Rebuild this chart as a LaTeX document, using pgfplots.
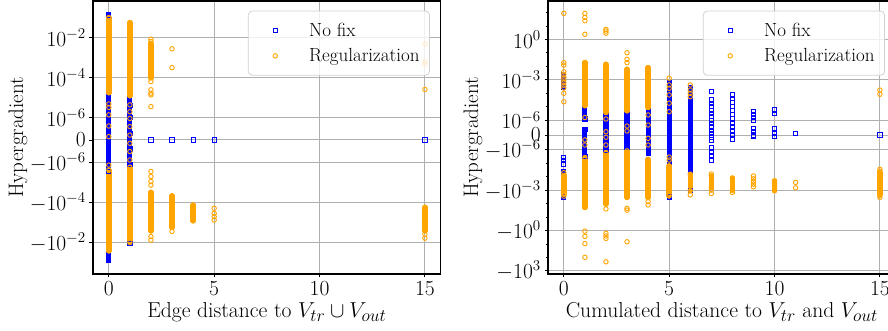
\RequirePackage{fix-cm}
\documentclass[border=0pt]{standalone}
\usepackage{pgfplots}
\usepackage{pgfplotstable}
\pgfplotsset{compat=1.18}
\DeclareMathSizes{21.6}{21.6}{17.5}{13}
\definecolor{mplblue}{RGB}{0,0,255}
\definecolor{mplorange}{RGB}{255,165,0}
\definecolor{gridgray}{RGB}{176,176,176}
% symmetric-log transform (linthresh = 1e-6, linscale = 1, base 10)
\newcommand\SL[1]{(abs(#1)<1e-6 ? (#1)*1111111.111 : ((#1)>0 ? 1 : -1)*(7.1111111+ln(max(abs(#1),1e-6))*0.4342944819))}

% ---------------- left panel ----------------
\pgfplotstableread{
x y
0 0.138
0 -0.085
nan 0
1 0.0245
1 -0.0117
}\LBbar
\pgfplotstableread{
x y
0 0.138
0 3e-6
0 5e-7
0 0
0 -5e-7
0 -3e-6
0 -0.085
1 4e-6
1 1e-6
1 3e-7
1 -4e-7
1 -1.3e-6
1 -0.0117
2 0
3 0
4 0
5 0
15 0
}\LBmark
\pgfplotstableread{
x y
0 0.102
0 1.8e-5
nan 0
0 -2.5e-6
0 -0.027
nan 0
1 0.057
1 1.26e-5
nan 0
1 -1.8e-6
1 -0.0102
nan 0
2 5e-3
2 1e-4
nan 0
2 -3.2e-5
2 -2.7e-3
nan 0
3 -4.8e-5
3 -1.8e-3
nan 0
4 -1.4e-4
4 -8.5e-4
nan 0
15 -1.8e-4
15 -2.7e-3
}\LObar
\pgfplotstableread{
x y
0 0.102
0 1.8e-5
0 4.9e-6
0 3.3e-6
0 1.4e-6
0 6.3e-7
0 1.5e-7
0 -1.4e-6
0 -2.5e-6
0 -0.027
1 0.057
1 1.26e-5
1 4.4e-6
1 2e-6
1 9.7e-7
1 6e-7
1 2.2e-7
1 -1.5e-7
1 -5.2e-7
1 -9e-7
1 -1.8e-6
1 -0.0102
2 0.0085
2 6.5e-3
2 5e-3
2 1e-4
2 6.5e-5
2 2.5e-5
2 1.7e-5
2 1.4e-5
2 3.6e-6
2 -2.9e-6
2 -5.2e-6
2 -9.3e-6
2 -1.4e-5
2 -3.2e-5
2 -2.7e-3
2 -5.2e-3
2 -7.8e-3
3 2.8e-3
3 3.2e-4
3 -4.8e-5
3 -1.8e-3
3 -2.9e-3
4 -1.4e-4
4 -8.5e-4
5 -2e-4
5 -3.6e-4
5 -5.2e-4
5 -7.8e-4
15 4.7e-3
15 6.5e-4
15 4.9e-4
15 2.6e-5
15 -1.8e-4
15 -2.7e-3
15 -4e-3
15 -6.3e-3
}\LOmark

% ---------------- right panel ----------------
\pgfplotstableread{
x y
0 2.5e-3
0 2.75e-4
nan 0
0 -3.9e-5
0 -3.1e-3
nan 0
1 7.8e-5
1 1.2e-6
nan 0
1 3.6e-7
1 -3.1e-6
nan 0
2 7.8e-6
2 -1e-6
nan 0
3 7.8e-6
3 -8.5e-7
nan 0
4 1.2e-5
4 -1.9e-6
nan 0
5 6.2e-4
5 -3.1e-3
nan 0
6 2.6e-4
6 -1.07e-3
}\RBbar
\pgfplotstableread{
x y
0 2.5e-3
0 1e-3
0 2.75e-4
0 -3.5e-6
0 -6.2e-6
0 -1.1e-5
0 -3.9e-5
0 -3.1e-3
1 1.2e-6
1 3.6e-7
1 -3.1e-6
2 -1e-6
3 -8.5e-7
4 -1.9e-6
5 6.2e-4
5 -3.1e-3
6 2.6e-4
6 -1.07e-3
7 1.3e-4
7 3.1e-5
7 1.74e-5
7 9.8e-6
7 5.5e-6
7 3.1e-6
7 1.74e-6
7 9.9e-7
7 7.65e-7
7 5.4e-7
7 3.15e-7
7 9e-8
7 -1.35e-7
7 -3.3e-7
7 -8.7e-7
7 -1.4e-6
7 -2.75e-6
7 -5.6e-6
8 7.4e-5
8 3.9e-5
8 1.95e-5
8 9.8e-6
8 4.9e-6
8 2.5e-6
8 1.2e-6
8 8.1e-7
8 5.4e-7
8 2.7e-7
8 0
8 -2.7e-7
9 4.2e-6
9 2.45e-6
9 1.55e-6
9 9.5e-7
9 4.5e-7
9 2.2e-7
9 0
9 -1.1e-7
10 5.6e-6
10 3.1e-6
10 4e-7
10 1.35e-7
10 -9e-8
11 1.1e-7
15 0
}\RBmark
\pgfplotstableread{
x y
0 -7.8e-5
0 -1.95e-3
nan 0
1 0.019
1 1.17e-5
nan 0
1 -3.7e-6
1 -0.019
nan 0
2 0.014
2 3.7e-6
nan 0
2 -1.6e-6
2 -0.0105
nan 0
3 6e-3
3 4.9e-6
nan 0
3 -1.2e-6
3 -3.4e-3
nan 0
4 7.9e-3
4 8.7e-6
nan 0
4 -5e-6
4 -3.4e-3
nan 0
5 -1.55e-5
5 -2.6e-3
nan 0
6 -6.5e-5
6 -1.07e-3
nan 0
7 -8.7e-5
7 -6.2e-4
nan 0
8 -1.23e-4
8 -9.8e-4
nan 0
10 -2e-4
10 -1.07e-3
nan 0
15 -4.9e-5
15 -1.95e-3
}\RObar
\pgfplotstableread{
x y
0 87
0 0.0186
0 0.0123
0 3.9e-3
0 2.45e-3
0 1.55e-3
0 9.8e-4
0 6.2e-4
0 3.9e-4
0 2.45e-4
0 9.8e-5
0 2.3e-5
0 -4.9e-5
0 -7.8e-5
0 -1.95e-3
0 -2.75e-3
1 87
1 44
1 24.5
1 2.4
1 0.019
1 1.17e-5
1 1.55e-6
1 -3.3e-7
1 -6.7e-7
1 -3.7e-6
1 -0.019
1 -1.1
1 -2.7
1 -9.3
1 -98
2 5.6
2 4.2
2 2.9
2 0.014
2 3.7e-6
2 1.2e-6
2 2.2e-7
2 -1.5e-7
2 -6.7e-7
2 -1.6e-6
2 -0.0105
2 -0.0245
2 -1.6
2 -2.5
2 -3.8
2 -209
3 0.102
3 0.033
3 0.0186
3 6e-3
3 4.9e-6
3 6e-7
3 2.7e-7
3 -1.2e-6
3 -3.4e-3
3 -0.022
3 -0.030
3 -6.8
4 7.9e-3
4 8.7e-6
4 2.4e-6
4 6.7e-7
4 -2.2e-7
4 -6.7e-7
4 -5e-6
4 -3.4e-3
4 -7.1e-3
4 -0.0123
5 1.3e-3
5 4.1e-4
5 2.3e-4
5 7.4e-5
5 1.8e-5
5 4.2e-6
5 -3.4e-6
5 -5.6e-6
5 -1.55e-5
5 -2.6e-3
6 4.1e-4
6 1.7e-4
6 9.8e-5
6 5.5e-5
6 -6.5e-5
6 -1.07e-3
6 -2.2e-3
7 -6.2e-5
7 -8.7e-5
7 -6.2e-4
7 -9.8e-4
7 -1.74e-3
8 -1.23e-4
8 -9.8e-4
8 -1.45e-3
9 -8.7e-5
9 -1.4e-4
9 -2.2e-4
9 -3.5e-4
9 -5.5e-4
10 -2e-4
10 -3.1e-4
10 -4.9e-4
10 -7.8e-4
10 -1.07e-3
11 -2.6e-4
11 -6.5e-4
15 1.7e-4
15 8.3e-5
15 -2.75e-5
15 -3.9e-5
15 -4.9e-5
15 -1.95e-3
15 -2.45e-3
15 -3.4e-3
}\ROmark

\pgfplotsset{
  panel/.style={
    scale only axis, width=347.7pt, height=273pt,
    xmin=-0.75, xmax=15.75, xtick={0,5,10,15},
    tick align=outside, xtick pos=bottom, ytick pos=left,
    major tick length=3.5pt, minor tick length=2.2pt,
    tick style={black, line width=0.9pt},
    axis line style={line width=1.1pt},
    grid=major, major grid style={gridgray, line width=1pt},
    tick label style={font=\fontsize{21.5}{25}\selectfont, inner sep=3.5pt},
    ylabel style={font=\fontsize{21}{25}\selectfont, at={(axis description cs:-0.2157,0.5)}, anchor=center},
    xlabel style={font=\fontsize{21.6}{25}\selectfont, at={(axis description cs:0.5,-0.161)}, anchor=base},
    legend cell align=left,
    legend style={at={(0.9692,0.9645)}, anchor=north east,
      draw=black!18, line width=0.8pt, rounded corners=4pt,
      fill=white, fill opacity=0.8, text opacity=1, draw opacity=1,
      font=\fontsize{19}{22}\selectfont,
      inner xsep=8pt, inner ysep=10pt, row sep=6.6pt,
      nodes={inner sep=2pt},
      /tikz/every odd column/.append style={column sep=12pt}},
  },
  bluebar/.style={mplblue, line width=5.1pt, line cap=rect, unbounded coords=jump, forget plot, no markers},
  orangebar/.style={mplorange, line width=5.4pt, line cap=round, unbounded coords=jump, forget plot, no markers},
  bluemark/.style={only marks, mark=square, mark size=2.1pt, color=mplblue, mark options={line width=0.9pt, solid},
    legend image code/.code={\path[draw=none] (-19pt,0pt) (20pt,0pt); \draw plot coordinates {(0pt,0pt)};}},
  orangemark/.style={only marks, mark=o, mark size=2.25pt, color=mplorange, mark options={line width=0.9pt, solid},
    legend image code/.code={\path[draw=none] (-19pt,0pt) (20pt,0pt); \draw plot coordinates {(0pt,0pt)};}},
}

\begin{document}
\begin{tikzpicture}
\begin{axis}[panel, at={(0pt,0pt)}, anchor=south west,
  ymin=-6.7, ymax=6.95,
  ytick={-5.1111111,-3.1111111,-1.1111111,0,1.1111111,3.1111111,5.1111111},
  yticklabels={$-10^{-2}$,$-10^{-4}$,$-10^{-6}$,$0$,$10^{-6}$,$10^{-4}$,$10^{-2}$},
  xlabel={Edge distance to $V_{tr}\mathbin{\cup}V_{out}$}, ylabel={Hypergradient}]
\addplot[bluebar] table[y expr=\SL{\thisrow{y}}] {\LBbar};
\addplot[bluemark] table[y expr=\SL{\thisrow{y}}] {\LBmark};
\addplot[orangebar] table[y expr=\SL{\thisrow{y}}] {\LObar};
\addplot[orangemark] table[y expr=\SL{\thisrow{y}}] {\LOmark};
\legend{No fix, Regularization}
\end{axis}
\begin{axis}[panel, at={(455pt,0pt)}, anchor=south west,
  ymin=-10.34, ymax=9.97,
  ytick={-10.1111111,-7.1111111,-4.1111111,-1.1111111,0,1.1111111,4.1111111,7.1111111},
  yticklabels={$-10^{3}$,$-10^{0}$,$-10^{-3}$,$-10^{-6}$,$0$,$10^{-6}$,$10^{-3}$,$10^{0}$},
  minor ytick={-9.1111111,-8.1111111,-6.1111111,-5.1111111,-3.1111111,-2.1111111,2.1111111,3.1111111,5.1111111,6.1111111,8.1111111,9.1111111},
  xlabel={Cumulated distance to $V_{tr}$ and $V_{out}$}, ylabel={Hypergradient}]
\addplot[bluebar] table[y expr=\SL{\thisrow{y}}] {\RBbar};
\addplot[bluemark] table[y expr=\SL{\thisrow{y}}] {\RBmark};
\addplot[orangebar] table[y expr=\SL{\thisrow{y}}] {\RObar};
\addplot[orangemark] table[y expr=\SL{\thisrow{y}}] {\ROmark};
\legend{No fix, Regularization}
\end{axis}
\pgfresetboundingbox
\path[use as bounding box] (-93pt,-57pt) rectangle (795pt,274pt);
\end{tikzpicture}
\end{document}
